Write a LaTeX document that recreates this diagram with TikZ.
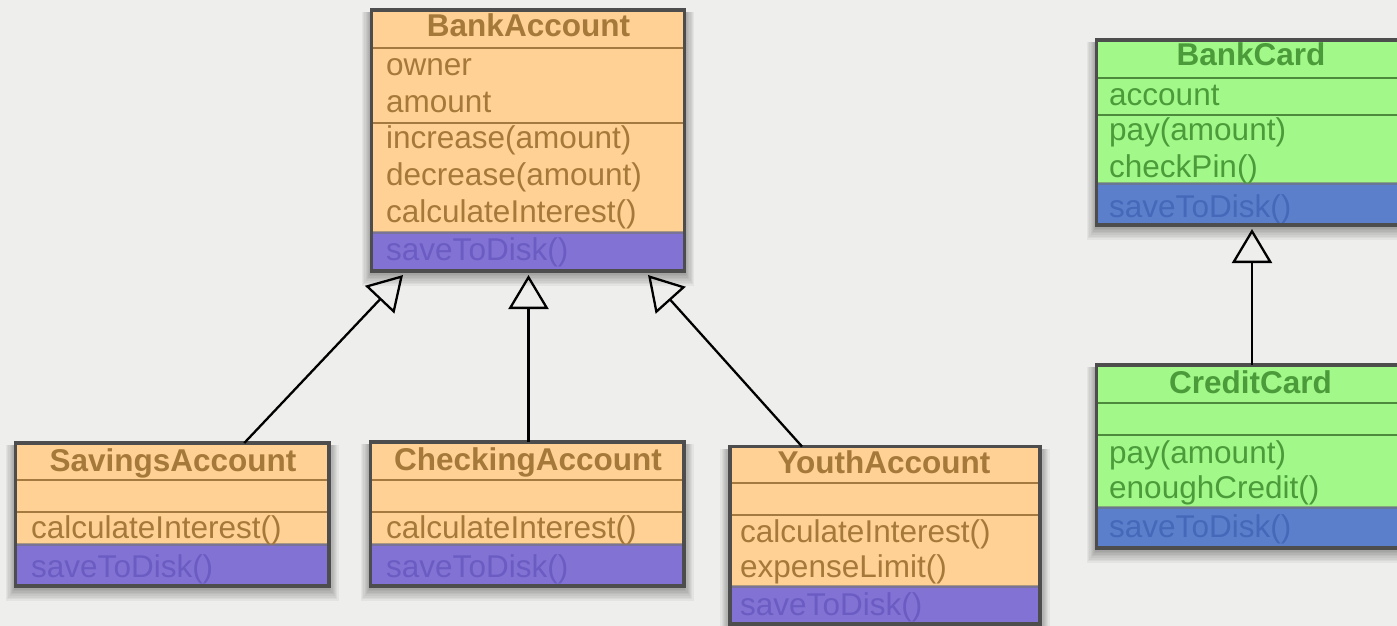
\documentclass[tikz,border=0pt]{standalone}
\usepackage{fontspec}
\setmainfont{Liberation Sans}
\usetikzlibrary{arrows.meta,calc}
\definecolor{bgc}{HTML}{EEEEEC}
\definecolor{ofill}{HTML}{FFD194}
\definecolor{otext}{HTML}{A57939}
\definecolor{oline}{HTML}{A57A40}
\definecolor{pband}{HTML}{8272D3}
\definecolor{ptext}{HTML}{6A5CC2}
\definecolor{gfill}{HTML}{A2F98A}
\definecolor{gtext}{HTML}{4C9B3A}
\definecolor{gline}{HTML}{4E8A3C}
\definecolor{bband}{HTML}{5B7FCB}
\definecolor{btext}{HTML}{4569B8}
\definecolor{bordc}{HTML}{4D4D4D}
\begin{document}
\begin{tikzpicture}[x=1pt,y=-1pt,
  txt/.style={anchor=base west, inner sep=0pt, font=\fontsize{31.5}{36}\selectfont},
  ttl/.style={anchor=base, inner sep=0pt, font=\fontsize{31.5}{36}\selectfont\bfseries},
  classbox/.style={inner sep=0pt, outer sep=0pt, anchor=north west},
  sepline/.style={line width=2pt},
  bandbox/.style={draw=black!55, draw opacity=0.6, line width=3pt},
  border/.style={draw=bordc, line width=3.5pt},
  inherit/.style={draw=black, line width=2.3pt, -{Triangle[open, length=34pt, width=40pt, line width=2.3pt]}}
]
\path[use as bounding box] (0,0) rectangle (1397,626);
\clip (0,0) rectangle (1397,626);
\fill[bgc] (0,0) rectangle (1397,626);

% shadows
\foreach \a/\b/\c/\d in {371.5/10/684.5/271, 15.5/443/329/586, 370.5/442/684/586, 730/446.5/1040/624, 1096.5/40/1407/225, 1096.5/365/1407/548}{
  \foreach \i in {1,...,8}{
    \fill[black, opacity=0.045] (\a-\i*1.2,\b+2) rectangle (\c+\i*1.2,\d+\i*1.6+2);
  }
}

% ---------- BankAccount ----------
\node[classbox, fill=ofill, minimum width=313pt, minimum height=261pt] (ba) at (371.5,10) {};
\draw[sepline, oline] (371.5,48) -- (684.5,48);
\draw[sepline, oline] (371.5,123) -- (684.5,123);
\path[bandbox, fill=pband] (371.5,232) rectangle (684.5,271);
\node[ttl, text=otext] (ba-t) at (528.5,37) {BankAccount};
\node[txt, text=otext] (ba-a1) at (386,75) {owner};
\node[txt, text=otext] (ba-a2) at (386,112) {amount};
\node[txt, text=otext] (ba-m1) at (386,148) {increase(amount)};
\node[txt, text=otext] (ba-m2) at (386,185) {decrease(amount)};
\node[txt, text=otext] (ba-m3) at (386,222) {calculateInterest()};
\node[txt, text=ptext] (ba-m4) at (386,260) {saveToDisk()};
\draw[border] (ba.north west) rectangle (ba.south east);

% ---------- SavingsAccount ----------
\node[classbox, fill=ofill, minimum width=313.5pt, minimum height=143pt] (sa) at (15.5,443) {};
\draw[sepline, oline] (15.5,480) -- (329,480);
\draw[sepline, oline] (15.5,512) -- (329,512);
\path[bandbox, fill=pband] (15.5,544) rectangle (329,586);
\node[ttl, text=otext] (sa-t) at (173,471) {SavingsAccount};
\node[txt, text=otext] (sa-m1) at (31,538) {calculateInterest()};
\node[txt, text=ptext] (sa-m2) at (31,577) {saveToDisk()};
\draw[border] (sa.north west) rectangle (sa.south east);

% ---------- CheckingAccount ----------
\node[classbox, fill=ofill, minimum width=313.5pt, minimum height=144pt] (ca) at (370.5,442) {};
\draw[sepline, oline] (370.5,480) -- (684,480);
\draw[sepline, oline] (370.5,512) -- (684,512);
\path[bandbox, fill=pband] (370.5,544) rectangle (684,586);
\node[ttl, text=otext] (ca-t) at (528,470) {CheckingAccount};
\node[txt, text=otext] (ca-m1) at (386,538) {calculateInterest()};
\node[txt, text=ptext] (ca-m2) at (386,577) {saveToDisk()};
\draw[border] (ca.north west) rectangle (ca.south east);

% ---------- YouthAccount ----------
\node[classbox, fill=ofill, minimum width=310pt, minimum height=177.5pt] (ya) at (730,446.5) {};
\draw[sepline, oline] (730,483) -- (1040,483);
\draw[sepline, oline] (730,515) -- (1040,515);
\path[bandbox, fill=pband] (730,586) rectangle (1040,624);
\node[ttl, text=otext] (ya-t) at (884,473) {YouthAccount};
\node[txt, text=otext] (ya-m1) at (740,542) {calculateInterest()};
\node[txt, text=otext] (ya-m2) at (740,577) {expenseLimit()};
\node[txt, text=ptext] (ya-m3) at (740,615) {saveToDisk()};
\draw[border] (ya.north west) rectangle (ya.south east);

% ---------- BankCard ----------
\node[classbox, fill=gfill, minimum width=310.5pt, minimum height=185pt] (bc) at (1096.5,40) {};
\draw[sepline, gline] (1096.5,78) -- (1407,78);
\draw[sepline, gline] (1096.5,115) -- (1407,115);
\path[bandbox, fill=bband] (1096.5,183) rectangle (1407,225);
\node[ttl, text=gtext] (bc-t) at (1251,66) {BankCard};
\node[txt, text=gtext] (bc-a1) at (1109,105) {account};
\node[txt, text=gtext] (bc-m1) at (1109,140) {pay(amount)};
\node[txt, text=gtext] (bc-m2) at (1109,177) {checkPin()};
\node[txt, text=btext] (bc-m3) at (1109,217) {saveToDisk()};
\draw[border] (bc.north west) rectangle (bc.south east);

% ---------- CreditCard ----------
\node[classbox, fill=gfill, minimum width=310.5pt, minimum height=183pt] (cc) at (1096.5,365) {};
\draw[sepline, gline] (1096.5,403) -- (1407,403);
\draw[sepline, gline] (1096.5,435) -- (1407,435);
\path[bandbox, fill=bband] (1096.5,507) rectangle (1407,548);
\node[ttl, text=gtext] (cc-t) at (1250.5,393) {CreditCard};
\node[txt, text=gtext] (cc-m1) at (1109,463) {pay(amount)};
\node[txt, text=gtext] (cc-m2) at (1109,498) {enoughCredit()};
\node[txt, text=btext] (cc-m3) at (1109,537) {saveToDisk()};
\draw[border] (cc.north west) rectangle (cc.south east);

% ---------- inheritance connectors ----------
\coordinate (tipSA) at ($(ba.south west)+(31.5,4)$);
\coordinate (tipCA) at ($(ba.south)+(0.5,4)$);
\coordinate (tipYA) at ($(ba.south west)+(276.5,4)$);
\coordinate (tipCC) at ($(bc.south west)+(155.5,4)$);
\draw[inherit] ($(sa.north)+(72,0)$) -- (tipSA);
\draw[inherit] (ca.north -| tipCA) -- (tipCA);
\draw[inherit] ($(ya.north)+(-83,0)$) -- (tipYA);
\draw[inherit] (cc.north -| tipCC) -- (tipCC);
\end{tikzpicture}
\end{document}
